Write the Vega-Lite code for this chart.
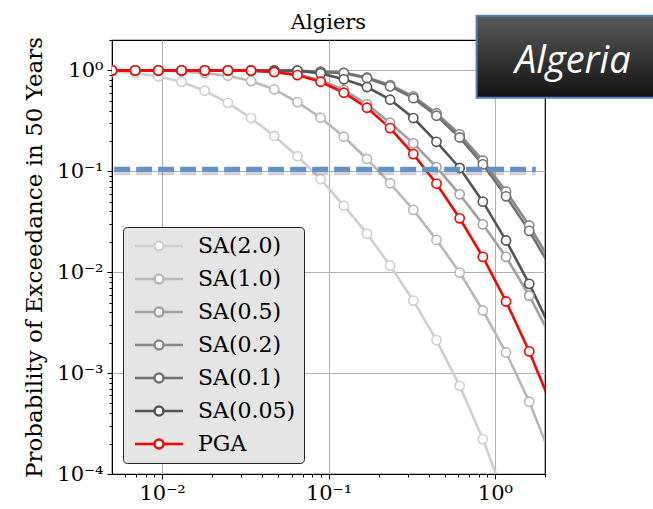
{
  "$schema": "https://vega.github.io/schema/vega-lite/v6.json",
  "width": 433,
  "height": 434,
  "autosize": {"type": "none"},
  "padding": {"left": 112, "top": 40, "right": 108, "bottom": 35},
  "background": "white",
  "title": {"text": "Algiers", "font": "DejaVu Serif", "fontSize": 21, "fontWeight": "normal", "color": "black", "offset": 6, "dy": 24},
  "config": {
    "view": {"stroke": "black", "strokeWidth": 1.2},
    "axis": {
      "labelFont": "DejaVu Serif", "labelFontSize": 21, "labelColor": "black",
      "titleFont": "DejaVu Serif", "titleFontSize": 23, "titleFontWeight": "normal", "titleColor": "black",
      "domainColor": "black", "tickColor": "black", "gridColor": "#b0b0b0", "gridWidth": 1
    }
  },
  "resolve": {"axis": {"x": "independent", "y": "independent"}},
  "datasets": {
    "curves": [
      {"s":"SA(2.0)","x":0.005,"p":0.975},{"s":"SA(2.0)","x":0.00689,"p":0.94},{"s":"SA(2.0)","x":0.0095,"p":0.87},{"s":"SA(2.0)","x":0.01309,"p":0.77},{"s":"SA(2.0)","x":0.01804,"p":0.628},{"s":"SA(2.0)","x":0.02486,"p":0.477},{"s":"SA(2.0)","x":0.03425,"p":0.337},{"s":"SA(2.0)","x":0.04721,"p":0.224},{"s":"SA(2.0)","x":0.06505,"p":0.141},{"s":"SA(2.0)","x":0.08965,"p":0.0835},{"s":"SA(2.0)","x":0.1236,"p":0.0456},{"s":"SA(2.0)","x":0.1703,"p":0.0241},{"s":"SA(2.0)","x":0.2346,"p":0.0116},{"s":"SA(2.0)","x":0.3234,"p":0.00523},{"s":"SA(2.0)","x":0.4456,"p":0.00212},{"s":"SA(2.0)","x":0.6141,"p":0.000748},{"s":"SA(2.0)","x":0.8463,"p":0.000222},{"s":"SA(2.0)","x":1.1667,"p":0.000054},
      {"s":"SA(1.0)","x":0.005,"p":0.998},{"s":"SA(1.0)","x":0.00689,"p":0.995},{"s":"SA(1.0)","x":0.0095,"p":0.99},{"s":"SA(1.0)","x":0.01309,"p":0.975},{"s":"SA(1.0)","x":0.01804,"p":0.94},{"s":"SA(1.0)","x":0.02486,"p":0.884},{"s":"SA(1.0)","x":0.03425,"p":0.783},{"s":"SA(1.0)","x":0.04721,"p":0.649},{"s":"SA(1.0)","x":0.06505,"p":0.485},{"s":"SA(1.0)","x":0.08965,"p":0.339},{"s":"SA(1.0)","x":0.1236,"p":0.22},{"s":"SA(1.0)","x":0.1703,"p":0.1325},{"s":"SA(1.0)","x":0.2346,"p":0.0761},{"s":"SA(1.0)","x":0.3234,"p":0.0414},{"s":"SA(1.0)","x":0.4456,"p":0.0209},{"s":"SA(1.0)","x":0.6141,"p":0.00991},{"s":"SA(1.0)","x":0.8463,"p":0.00417},{"s":"SA(1.0)","x":1.1667,"p":0.0016},{"s":"SA(1.0)","x":1.608,"p":0.00052},{"s":"SA(1.0)","x":2.216,"p":0.000138},
      {"s":"SA(0.5)","x":0.005,"p":1},{"s":"SA(0.5)","x":0.00689,"p":1},{"s":"SA(0.5)","x":0.0095,"p":1},{"s":"SA(0.5)","x":0.01309,"p":0.999},{"s":"SA(0.5)","x":0.01804,"p":0.998},{"s":"SA(0.5)","x":0.02486,"p":0.995},{"s":"SA(0.5)","x":0.03425,"p":0.985},{"s":"SA(0.5)","x":0.04721,"p":0.96},{"s":"SA(0.5)","x":0.06505,"p":0.91},{"s":"SA(0.5)","x":0.08965,"p":0.8},{"s":"SA(0.5)","x":0.1236,"p":0.64},{"s":"SA(0.5)","x":0.1703,"p":0.46},{"s":"SA(0.5)","x":0.2346,"p":0.303},{"s":"SA(0.5)","x":0.3234,"p":0.189},{"s":"SA(0.5)","x":0.4456,"p":0.11},{"s":"SA(0.5)","x":0.6141,"p":0.0591},{"s":"SA(0.5)","x":0.8463,"p":0.0298},{"s":"SA(0.5)","x":1.1667,"p":0.0142},{"s":"SA(0.5)","x":1.608,"p":0.00584},{"s":"SA(0.5)","x":2.216,"p":0.00213},
      {"s":"SA(0.2)","x":0.005,"p":1},{"s":"SA(0.2)","x":0.00689,"p":1},{"s":"SA(0.2)","x":0.0095,"p":1},{"s":"SA(0.2)","x":0.01309,"p":1},{"s":"SA(0.2)","x":0.01804,"p":1},{"s":"SA(0.2)","x":0.02486,"p":1},{"s":"SA(0.2)","x":0.03425,"p":0.999},{"s":"SA(0.2)","x":0.04721,"p":0.997},{"s":"SA(0.2)","x":0.06505,"p":0.992},{"s":"SA(0.2)","x":0.08965,"p":0.972},{"s":"SA(0.2)","x":0.1236,"p":0.95},{"s":"SA(0.2)","x":0.1703,"p":0.85},{"s":"SA(0.2)","x":0.2346,"p":0.715},{"s":"SA(0.2)","x":0.3234,"p":0.552},{"s":"SA(0.2)","x":0.4456,"p":0.376},{"s":"SA(0.2)","x":0.6141,"p":0.232},{"s":"SA(0.2)","x":0.8463,"p":0.128},{"s":"SA(0.2)","x":1.1667,"p":0.063},{"s":"SA(0.2)","x":1.608,"p":0.029},{"s":"SA(0.2)","x":2.216,"p":0.0119},
      {"s":"SA(0.1)","x":0.005,"p":1},{"s":"SA(0.1)","x":0.00689,"p":1},{"s":"SA(0.1)","x":0.0095,"p":1},{"s":"SA(0.1)","x":0.01309,"p":1},{"s":"SA(0.1)","x":0.01804,"p":1},{"s":"SA(0.1)","x":0.02486,"p":1},{"s":"SA(0.1)","x":0.03425,"p":0.999},{"s":"SA(0.1)","x":0.04721,"p":0.996},{"s":"SA(0.1)","x":0.06505,"p":0.99},{"s":"SA(0.1)","x":0.08965,"p":0.965},{"s":"SA(0.1)","x":0.1236,"p":0.94},{"s":"SA(0.1)","x":0.1703,"p":0.835},{"s":"SA(0.1)","x":0.2346,"p":0.695},{"s":"SA(0.1)","x":0.3234,"p":0.53},{"s":"SA(0.1)","x":0.4456,"p":0.355},{"s":"SA(0.1)","x":0.6141,"p":0.216},{"s":"SA(0.1)","x":0.8463,"p":0.117},{"s":"SA(0.1)","x":1.1667,"p":0.0565},{"s":"SA(0.1)","x":1.608,"p":0.0257},{"s":"SA(0.1)","x":2.216,"p":0.0104},
      {"s":"SA(0.05)","x":0.005,"p":1},{"s":"SA(0.05)","x":0.00689,"p":1},{"s":"SA(0.05)","x":0.0095,"p":1},{"s":"SA(0.05)","x":0.01309,"p":1},{"s":"SA(0.05)","x":0.01804,"p":1},{"s":"SA(0.05)","x":0.02486,"p":0.999},{"s":"SA(0.05)","x":0.03425,"p":0.998},{"s":"SA(0.05)","x":0.04721,"p":0.997},{"s":"SA(0.05)","x":0.06505,"p":0.993},{"s":"SA(0.05)","x":0.08965,"p":0.934},{"s":"SA(0.05)","x":0.1236,"p":0.816},{"s":"SA(0.05)","x":0.1703,"p":0.684},{"s":"SA(0.05)","x":0.2346,"p":0.512},{"s":"SA(0.05)","x":0.3234,"p":0.337},{"s":"SA(0.05)","x":0.4456,"p":0.196},{"s":"SA(0.05)","x":0.6141,"p":0.1078},{"s":"SA(0.05)","x":0.8463,"p":0.05},{"s":"SA(0.05)","x":1.1667,"p":0.0206},{"s":"SA(0.05)","x":1.608,"p":0.00766},{"s":"SA(0.05)","x":2.216,"p":0.00256},
      {"s":"PGA","x":0.005,"p":1},{"s":"PGA","x":0.00689,"p":1},{"s":"PGA","x":0.0095,"p":1},{"s":"PGA","x":0.01309,"p":1},{"s":"PGA","x":0.01804,"p":1},{"s":"PGA","x":0.02486,"p":1},{"s":"PGA","x":0.03425,"p":0.995},{"s":"PGA","x":0.04721,"p":0.965},{"s":"PGA","x":0.06505,"p":0.898},{"s":"PGA","x":0.08965,"p":0.771},{"s":"PGA","x":0.1236,"p":0.6},{"s":"PGA","x":0.1703,"p":0.426},{"s":"PGA","x":0.2346,"p":0.268},{"s":"PGA","x":0.3234,"p":0.148},{"s":"PGA","x":0.4456,"p":0.0754},{"s":"PGA","x":0.6141,"p":0.0342},{"s":"PGA","x":0.8463,"p":0.01417},{"s":"PGA","x":1.1667,"p":0.00512},{"s":"PGA","x":1.608,"p":0.00164},{"s":"PGA","x":2.216,"p":0.000456}
    ],
    "ref": [{"x": 0.00515, "x2": 1.76, "p": 0.105}],
    "tag": [{"x": 0.776, "x2": 10, "p": 3.47, "p2": 0.535, "cx": 2.94, "cy": 0.94, "label": "Algeria"}]
  },
  "layer": [
    {
      "data": {"name": "curves"},
      "mark": {"type": "line", "strokeWidth": 2.6, "clip": true},
      "encoding": {
        "x": {"field": "x", "type": "quantitative",
          "scale": {"type": "log", "domain": [0.005, 2], "nice": false},
          "axis": {"orient": "bottom", "values": [0.01, 0.1, 1], "grid": true, "tickSize": 5, "labelPadding": 3, "title": null,
            "labelExpr": "'10' + replace(replace(replace(replace(replace(replace('' + round(log(datum.value)/LN10), '-', '⁻'), '0', '⁰'), '1', '¹'), '2', '²'), '3', '³'), '4', '⁴')"}},
        "y": {"field": "p", "type": "quantitative",
          "scale": {"type": "log", "domain": [0.0001, 2], "nice": false},
          "axis": {"orient": "left", "values": [0.0001, 0.001, 0.01, 0.1, 1], "grid": true, "tickSize": 5, "labelPadding": 4,
            "title": "Probability of Exceedance in 50 Years", "titlePadding": 10,
            "labelExpr": "'10' + replace(replace(replace(replace(replace(replace('' + round(log(datum.value)/LN10), '-', '⁻'), '0', '⁰'), '1', '¹'), '2', '²'), '3', '³'), '4', '⁴')"}},
        "stroke": {"field": "s", "type": "nominal",
          "scale": {"domain": ["SA(2.0)", "SA(1.0)", "SA(0.5)", "SA(0.2)", "SA(0.1)", "SA(0.05)", "PGA"],
                    "range": ["#cfcfcf", "#b8b8b8", "#a0a0a0", "#8a8a8a", "#707070", "#545454", "#ff0000"]},
          "legend": {
            "title": null, "orient": "none", "legendX": 11, "legendY": 187,
            "fillColor": "#e5e5e5", "strokeColor": "#222222", "cornerRadius": 4, "padding": 8,
            "symbolType": "M-4.8,0L-0.9,0M0.9,0L4.8,0M0.9,0A0.9,0.9,0,1,1,-0.9,0A0.9,0.9,0,1,1,0.9,0",
            "symbolSize": 100, "symbolStrokeWidth": 2.5, "symbolFillColor": "white", "symbolOffset": 17,
            "labelFont": "DejaVu Serif", "labelFontSize": 22, "labelColor": "black", "labelOffset": 28, "labelLimit": 300,
            "rowPadding": 11,
            "encode": {"symbols": {"update": {"fill": {"value": "white"}, "strokeWidth": {"value": 2.5}, "opacity": {"value": 1}}}}
          }}
      }
    },
    {
      "data": {"name": "curves"},
      "mark": {"type": "point", "shape": "circle", "filled": true, "fill": "white", "size": 85, "strokeWidth": 1.6, "opacity": 1, "clip": true},
      "encoding": {
        "x": {"field": "x", "type": "quantitative",
          "scale": {"type": "log", "domain": [0.005, 2], "nice": false},
          "axis": {"orient": "bottom", "values": [0.006,0.007,0.008,0.009,0.02,0.03,0.04,0.05,0.06,0.07,0.08,0.09,0.2,0.3,0.4,0.5,0.6,0.7,0.8,0.9,2], "grid": false, "labels": false, "domain": false, "tickSize": 3, "title": null}},
        "y": {"field": "p", "type": "quantitative",
          "scale": {"type": "log", "domain": [0.0001, 2], "nice": false},
          "axis": {"orient": "left", "values": [0.0002,0.0003,0.0004,0.0005,0.0006,0.0007,0.0008,0.0009,0.002,0.003,0.004,0.005,0.006,0.007,0.008,0.009,0.02,0.03,0.04,0.05,0.06,0.07,0.08,0.09,0.2,0.3,0.4,0.5,0.6,0.7,0.8,0.9,2], "grid": false, "labels": false, "domain": false, "tickSize": 3, "title": null}},
        "stroke": {"field": "s", "type": "nominal"}
      }
    },
    {
      "data": {"name": "ref"},
      "mark": {"type": "rule", "color": "#7a7a7a", "opacity": 0.35, "strokeWidth": 6, "strokeDash": [16, 6], "yOffset": 3},
      "encoding": {
        "x": {"field": "x", "type": "quantitative", "axis": null},
        "x2": {"field": "x2"},
        "y": {"field": "p", "type": "quantitative", "axis": null}
      }
    },
    {
      "data": {"name": "ref"},
      "mark": {"type": "rule", "color": "#6093cc", "strokeWidth": 5, "strokeDash": [16, 6]},
      "encoding": {
        "x": {"field": "x", "type": "quantitative", "axis": null},
        "x2": {"field": "x2"},
        "y": {"field": "p", "type": "quantitative", "axis": null}
      }
    },
    {
      "data": {"name": "tag"},
      "mark": {"type": "rect", "clip": false, "color": "#000000", "opacity": 0.3, "xOffset": 3, "yOffset": 3},
      "encoding": {
        "x": {"field": "x", "type": "quantitative", "axis": null},
        "x2": {"field": "x2"},
        "y": {"field": "p", "type": "quantitative", "axis": null},
        "y2": {"field": "p2"}
      }
    },
    {
      "data": {"name": "tag"},
      "mark": {"type": "rect", "clip": false, "stroke": "#4f81bd", "strokeWidth": 2,
        "fill": {"gradient": "linear", "x1": 0, "y1": 0, "x2": 0, "y2": 1, "stops": [{"offset": 0, "color": "#5a5a5a"}, {"offset": 1, "color": "#121212"}]}},
      "encoding": {
        "x": {"field": "x", "type": "quantitative", "axis": null},
        "x2": {"field": "x2"},
        "y": {"field": "p", "type": "quantitative", "axis": null},
        "y2": {"field": "p2"}
      }
    },
    {
      "data": {"name": "tag"},
      "mark": {"type": "text", "clip": false, "color": "white", "font": "Open Sans", "fontStyle": "italic", "fontSize": 38, "align": "center", "baseline": "alphabetic"},
      "encoding": {
        "x": {"field": "cx", "type": "quantitative", "axis": null},
        "y": {"field": "cy", "type": "quantitative", "axis": null},
        "text": {"field": "label"}
      }
    }
  ]
}
